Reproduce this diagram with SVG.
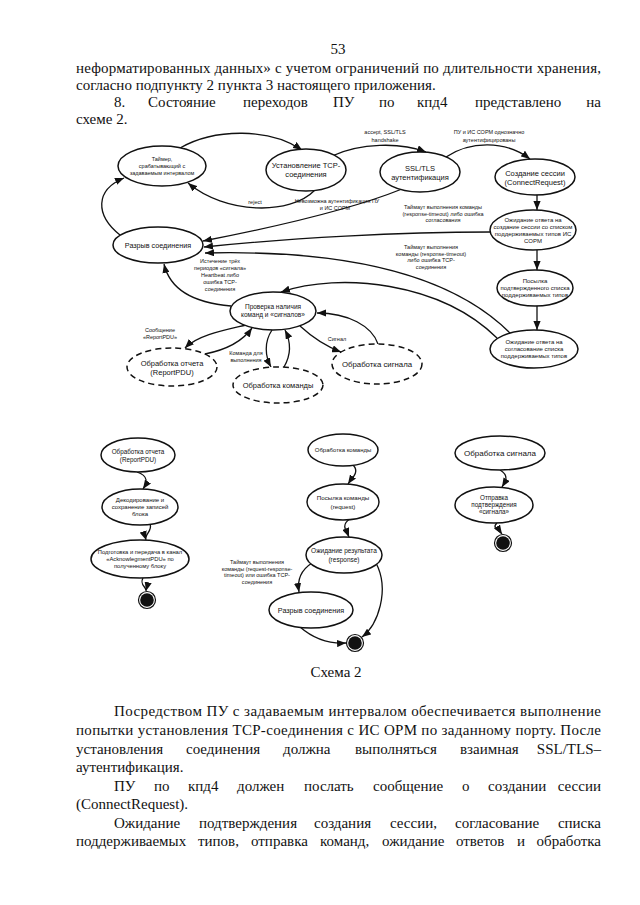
<svg xmlns="http://www.w3.org/2000/svg" width="640" height="905" viewBox="0 0 640 905">
<defs>
<style>
.pg{font-family:"Liberation Serif","Times New Roman",serif;font-size:15px;fill:#111}
.n{fill:#fff;stroke:#111;stroke-width:1.5}
.nd{fill:#fff;stroke:#111;stroke-width:1.5;stroke-dasharray:6 4}
.t{font-family:"Liberation Sans",Arial,sans-serif;fill:#111;text-anchor:middle}
.lb{font-family:"Liberation Sans",Arial,sans-serif;fill:#111;text-anchor:middle;font-size:5.5px}
.e{fill:none;stroke:#111;stroke-width:1.3;marker-end:url(#arr)}
.fo{fill:none;stroke:#111;stroke-width:1.2}
.fi{fill:#111}
</style>
<marker id="arr" viewBox="0 0 10 8" refX="10" refY="4" markerWidth="9" markerHeight="7.2" markerUnits="userSpaceOnUse" orient="auto"><path d="M0,0 L10,4 L0,8 z" fill="#111"/></marker>
</defs>
<rect width="640" height="905" fill="#fff"/>

<g id="page-text-top">
<text class="pg" x="338" y="54" text-anchor="middle">53</text>
<text class="pg" x="76" y="73" textLength="525" lengthAdjust="spacing">неформатированных данных» с учетом ограничений по длительности хранения,</text>
<text class="pg" x="76" y="90">согласно подпункту 2 пункта 3 настоящего приложения.</text>
<text class="pg" y="107"><tspan x="114">8.</tspan><tspan x="148">Состояние</tspan><tspan x="243">переходов</tspan><tspan x="333">ПУ</tspan><tspan x="379">по</tspan><tspan x="417">кпд4</tspan><tspan x="475">представлено</tspan></text>
<text class="pg" x="601" y="107" text-anchor="end">на</text>
<text class="pg" x="76" y="124">схеме 2.</text>
</g>

<g id="connectors">
<path class="e" d="M180,148 C215,128 270,128 302,150"/>
<path class="e" d="M315,190 C290,216 225,214 188,183"/>
<path class="e" d="M332,156 C360,143 400,142 426,152"/>
<path class="e" d="M446,157 C470,141 505,140 530,159"/>
<path class="e" d="M537,195 L537,210"/>
<path class="e" d="M537,250 L537,270"/>
<path class="e" d="M537,306 L537,330"/>
<path class="e" d="M402,189 C350,210 270,228 203,241"/>
<path class="e" d="M490,232 C400,232 290,238 204,247"/>
<path class="e" d="M510,333 C445,268 330,250 205,253"/>
<path class="e" d="M497,338 C440,282 340,272 281,292"/>
<path class="e" d="M120,235 C95,215 95,190 124,178"/>
<path class="e" d="M231,306 C195,303 170,290 164,264"/>
<path class="e" d="M246,325 C225,330 198,335 185,348"/>
<path class="e" d="M205,354 C225,350 242,342 252,328"/>
<path class="e" d="M272,330 C264,342 265,356 271,367"/>
<path class="e" d="M284,367 C291,355 291,342 285,330"/>
<path class="e" d="M300,326 C312,337 325,346 341,352"/>
<path class="e" d="M378,344 C372,326 348,313 317,313"/>
<path class="e" d="M137,472 C149,476 147,483 143,489"/>
<path class="e" d="M150,524 C153,531 144,534 146,540"/>
<path class="e" d="M143,578 C139,585 147,587 146,591"/>
<path class="e" d="M353,465 C360,472 352,478 348,484"/>
<path class="e" d="M350,519 C340,525 347,532 349,537"/>
<path class="e" d="M312,563 C301,570 297,580 299,592"/>
<path class="e" d="M300,627 C315,640 330,644 346,643"/>
<path class="e" d="M376,563 C390,590 378,625 362,637"/>
<path class="e" d="M500,470 C510,476 505,482 502,487"/>
<path class="e" d="M497,523 C491,528 500,531 502,534"/>
</g>

<g id="edge-labels">
<text class="lb" x="385" y="134">accept, SSL/TLS</text>
<text class="lb" x="385" y="141.5">handshake</text>
<text class="lb" x="489" y="134">ПУ и ИС СОРМ однозначно</text>
<text class="lb" x="489" y="141.5">аутентифицированы</text>
<text class="lb" x="255" y="203.5">reject</text>
<text class="lb" x="337" y="203">Невозможна аутентификация ПУ</text>
<text class="lb" x="335" y="210">и ИС СОРМ</text>
<text class="lb" x="443" y="209">Таймаут выполнения команды</text>
<text class="lb" x="443" y="215.5">(response-timeout)  либо ошибка</text>
<text class="lb" x="443" y="222">согласования</text>
<text class="lb" x="431" y="249">Таймаут выполнения</text>
<text class="lb" x="431" y="255.5">команды (response-timeout)</text>
<text class="lb" x="431" y="262">либо ошибка TCP-</text>
<text class="lb" x="431" y="268.5">соединения</text>
<text class="lb" x="220" y="263">Истечение трёх</text>
<text class="lb" x="220" y="270">периодов «сигнала»</text>
<text class="lb" x="220" y="277">Heartbeat либо</text>
<text class="lb" x="220" y="284">ошибка TCP-</text>
<text class="lb" x="220" y="291">соединения</text>
<text class="lb" x="160" y="332">Сообщение</text>
<text class="lb" x="160" y="338.5">«ReportPDU»</text>
<text class="lb" x="246" y="355">Команда для</text>
<text class="lb" x="246" y="361.5">выполнения</text>
<text class="lb" x="337" y="341">Сигнал</text>
<text class="lb" x="257" y="564">Таймаут выполнения</text>
<text class="lb" x="257" y="570.5">команды (request-response-</text>
<text class="lb" x="257" y="577">timeout)  или ошибка TCP-</text>
<text class="lb" x="257" y="583.5">соединения</text>
</g>

<g id="timer"><ellipse class="n" cx="162" cy="166" rx="44" ry="20"/>
<text class="t" font-size="5.5"><tspan x="162" y="161">Таймер,</tspan><tspan x="162" y="168">срабатывающий с</tspan><tspan x="162" y="175">задаваемым интервалом</tspan></text></g>
<g id="tcp"><ellipse class="n" cx="306" cy="170" rx="40" ry="21"/>
<text class="t" font-size="7.5"><tspan x="306" y="168">Установление TCP-</tspan><tspan x="306" y="177">соединения</tspan></text></g>
<g id="ssl"><ellipse class="n" cx="420" cy="172" rx="40" ry="20"/>
<text class="t" font-size="7.5"><tspan x="420" y="170.5">SSL/TLS</tspan><tspan x="420" y="180">аутентификация</tspan></text></g>
<g id="session"><ellipse class="n" cx="535" cy="177" rx="40" ry="18"/>
<text class="t" font-size="7.5"><tspan x="535" y="175.5">Создание сессии</tspan><tspan x="535" y="184.5">(ConnectRequest)</tspan></text></g>
<g id="wait-session"><ellipse class="n" cx="533" cy="230" rx="43" ry="20"/>
<text class="t" font-size="6"><tspan x="533" y="221.5">Ожидание ответа на</tspan><tspan x="533" y="228.5">создание сессии со списком</tspan><tspan x="533" y="235.5">поддерживаемых типов ИС</tspan><tspan x="533" y="242.5">СОРМ</tspan></text></g>
<g id="send-list"><ellipse class="n" cx="535" cy="288" rx="38" ry="18"/>
<text class="t" font-size="6"><tspan x="535" y="283">Посылка</tspan><tspan x="535" y="290">подтвержденного списка</tspan><tspan x="535" y="297">поддерживаемых типов</tspan></text></g>
<g id="wait-list"><ellipse class="n" cx="534" cy="349" rx="44" ry="19"/>
<text class="t" font-size="6"><tspan x="534" y="344">Ожидание ответа на</tspan><tspan x="534" y="351">согласование списка</tspan><tspan x="534" y="358">поддерживаемых типов</tspan></text></g>
<g id="disconnect"><ellipse class="n" cx="158" cy="245" rx="45" ry="18"/>
<text class="t" font-size="7.2" x="158" y="247.5">Разрыв соединения</text></g>
<g id="check"><ellipse class="n" cx="273" cy="311" rx="43" ry="19"/>
<text class="t" font-size="6.5"><tspan x="273" y="309.3">Проверка наличия</tspan><tspan x="273" y="317.3">команд и «сигналов»</tspan></text></g>
<g id="report"><ellipse class="nd" cx="172" cy="367" rx="45" ry="19"/>
<text class="t" font-size="7.5"><tspan x="172" y="365.5">Обработка отчета</tspan><tspan x="172" y="374.5">(ReportPDU)</tspan></text></g>
<g id="command"><ellipse class="nd" cx="278" cy="385" rx="45" ry="18"/>
<text class="t" font-size="7.5" x="278" y="387.5">Обработка команды</text></g>
<g id="signal"><ellipse class="nd" cx="377" cy="364" rx="45" ry="20"/>
<text class="t" font-size="7.8" x="377" y="366.5">Обработка сигнала</text></g>

<g id="b-report"><ellipse class="n" cx="138" cy="455" rx="37" ry="17"/>
<text class="t" font-size="6.3"><tspan x="138" y="453.7">Обработка отчета</tspan><tspan x="138" y="461.7">(ReportPDU)</tspan></text></g>
<g id="b-decode"><ellipse class="n" cx="140" cy="507" rx="38" ry="18"/>
<text class="t" font-size="6"><tspan x="140" y="502">Декодирование и</tspan><tspan x="140" y="509">сохранение записей</tspan><tspan x="140" y="516">блока</tspan></text></g>
<g id="b-ack"><ellipse class="n" cx="140" cy="559" rx="49" ry="19"/>
<text class="t" font-size="5.8"><tspan x="140" y="554">Подготовка и передача в канал</tspan><tspan x="140" y="561">«AcknowlegmentPDU» по</tspan><tspan x="140" y="568">полученному блоку</tspan></text></g>
<g id="b-final-1"><circle class="fo" cx="147" cy="600" r="8.5"/><circle class="fi" cx="147" cy="600" r="6.8"/></g>
<g id="b-command"><ellipse class="n" cx="343" cy="450" rx="35" ry="16"/>
<text class="t" font-size="6" x="343" y="452">Обработка команды</text></g>
<g id="b-request"><ellipse class="n" cx="343" cy="502" rx="36" ry="18"/>
<text class="t" font-size="6.2"><tspan x="343" y="499.5">Посылка команды</tspan><tspan x="343" y="508.5">(request)</tspan></text></g>
<g id="b-response"><ellipse class="n" cx="344" cy="555" rx="38" ry="18"/>
<text class="t" font-size="6.5"><tspan x="344" y="552.8">Ожидание результата</tspan><tspan x="344" y="561.8">(response)</tspan></text></g>
<g id="b-disconnect"><ellipse class="n" cx="311" cy="610" rx="42" ry="18"/>
<text class="t" font-size="7.2" x="311" y="612.5">Разрыв соединения</text></g>
<g id="b-final-2"><circle class="fo" cx="355" cy="643" r="8.5"/><circle class="fi" cx="355" cy="643" r="6.8"/></g>
<g id="b-signal"><ellipse class="n" cx="500" cy="453" rx="45" ry="17"/>
<text class="t" font-size="8" x="500" y="455.8">Обработка сигнала</text></g>
<g id="b-signal-ack"><ellipse class="n" cx="494" cy="505" rx="39" ry="18"/>
<text class="t" font-size="6.3"><tspan x="494" y="500">Отправка</tspan><tspan x="494" y="507">подтверждения</tspan><tspan x="494" y="514">«сигнала»</tspan></text></g>
<g id="b-final-3"><circle class="fo" cx="503" cy="543" r="8.5"/><circle class="fi" cx="503" cy="543" r="6.8"/></g>

<g id="page-text-bottom">
<text class="pg" x="336" y="677" text-anchor="middle">Схема 2</text>
<text class="pg" x="114" y="716" textLength="487" lengthAdjust="spacing">Посредством ПУ с задаваемым интервалом обеспечивается выполнение</text>
<text class="pg" x="76" y="735" textLength="525" lengthAdjust="spacing">попытки установления TCP-соединения с ИС ОРМ по заданному порту. После</text>
<text class="pg" y="754"><tspan x="76">установления</tspan><tspan x="186">соединения</tspan><tspan x="283">должна</tspan><tspan x="355">выполняться</tspan><tspan x="460">взаимная</tspan></text>
<text class="pg" x="601" y="754" text-anchor="end">SSL/TLS–</text>
<text class="pg" x="76" y="772">аутентификация.</text>
<text class="pg" y="791"><tspan x="114">ПУ</tspan><tspan x="154">по</tspan><tspan x="188">кпд4</tspan><tspan x="237">должен</tspan><tspan x="304">послать</tspan><tspan x="373">сообщение</tspan><tspan x="462">о</tspan><tspan x="488">создании</tspan></text>
<text class="pg" x="601" y="791" text-anchor="end">сессии</text>
<text class="pg" x="76" y="809">(ConnectRequest).</text>
<text class="pg" y="828"><tspan x="114">Ожидание</tspan><tspan x="199">подтверждения</tspan><tspan x="314">создания</tspan><tspan x="390">сессии,</tspan><tspan x="455">согласование</tspan></text>
<text class="pg" x="601" y="828" text-anchor="end">списка</text>
<text class="pg" y="846"><tspan x="76">поддерживаемых</tspan><tspan x="198">типов,</tspan><tspan x="251">отправка</tspan><tspan x="320">команд,</tspan><tspan x="382">ожидание</tspan><tspan x="456">ответов</tspan><tspan x="517">и</tspan></text>
<text class="pg" x="601" y="846" text-anchor="end">обработка</text>
</g>
</svg>
